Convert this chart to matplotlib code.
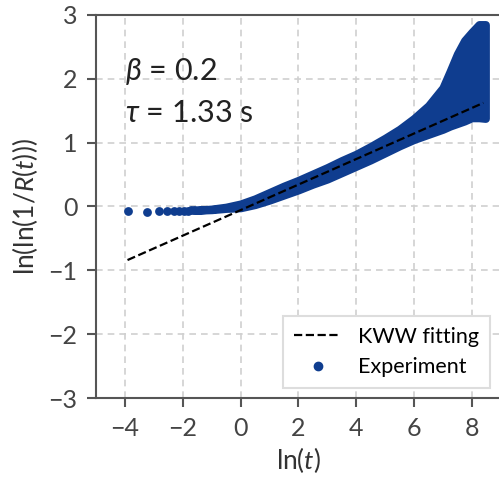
import numpy as np
import matplotlib.pyplot as plt
from matplotlib.lines import Line2D

plt.rcParams['font.family'] = ['Lato', 'DejaVu Sans']
plt.rcParams['mathtext.fontset'] = 'custom'
plt.rcParams['mathtext.rm'] = 'Lato'
plt.rcParams['mathtext.it'] = 'Lato:italic'

# fit parameters
beta = 0.2
tau = 1.33

# first, well separated points (ln t, ln ln 1/R)
sparse_x = [-3.91, -3.22, -2.81, -2.53, -2.30, -2.12, -1.97, -1.83, -1.71, -1.61]
sparse_y = [-0.07, -0.08, -0.07, -0.07, -0.07, -0.07, -0.07, -0.07, -0.06, -0.06]

# dense part of the data: lower / upper edge of the point cloud
band_x = [-1.6, -1.0, -0.5, 0.0, 0.5, 1.0, 1.5, 2.0, 2.5, 3.0, 3.5, 4.0, 4.5,
          5.0, 5.5, 6.0, 6.5, 7.0, 7.25, 7.5, 7.75, 8.0, 8.25, 8.47]
band_lo = [-0.06, -0.05, -0.03, -0.02, 0.03, 0.10, 0.18, 0.26, 0.35, 0.43, 0.53,
           0.63, 0.73, 0.84, 0.95, 1.05, 1.13, 1.21, 1.26, 1.30, 1.34, 1.39, 1.39, 1.38]
band_hi = [-0.06, -0.04, -0.01, 0.04, 0.12, 0.22, 0.32, 0.41, 0.51, 0.61, 0.72,
           0.82, 0.94, 1.07, 1.21, 1.38, 1.58, 1.86, 2.12, 2.39, 2.60, 2.73, 2.85, 2.85]

fit_x = np.array([-3.91, 8.40])

blue = '#0f3d8f'
grey = '#555555'

fig = plt.figure(figsize=(4.99, 4.79), dpi=100)
ax = fig.add_axes([0.1924, 0.1691, 0.811, 0.7996])

ax.scatter(sparse_x, sparse_y, s=40, color=blue, zorder=2, linewidths=0)
ax.fill_between(band_x, band_lo, band_hi, color=blue, edgecolor=blue,
                linewidth=5.8, joinstyle='round', zorder=2)

ax.plot(fit_x, beta * fit_x - beta * np.log(tau), color='black', linestyle='--',
        linewidth=1.6, zorder=3)

ax.text(-4.0, 1.98, r'$\beta$ = 0.2', fontsize=22, color='#222222')
ax.text(-4.0, 1.32, r'$\tau$ = 1.33 s', fontsize=22, color='#222222')

ax.set_xlim(-5, 9)
ax.set_ylim(-3, 3)
ax.set_xticks([-4, -2, 0, 2, 4, 6, 8])
ax.set_yticks([-3, -2, -1, 0, 1, 2, 3])
ax.set_xlabel(r'ln($t$)', fontsize=19, color='#333333', labelpad=4)
ax.set_ylabel(r'ln(ln(1/$R$($t$)))', fontsize=19, color='#333333', labelpad=6)

ax.grid(True, color='#d0d0d0', linestyle=(0, (4, 3)), linewidth=1.2)
ax.set_axisbelow(True)
ax.tick_params(direction='out', length=6.5, width=1.5, color=grey, pad=7,
               labelsize=18, labelcolor='#444444')
for side in ['left', 'bottom', 'top']:
    ax.spines[side].set_color(grey)
    ax.spines[side].set_linewidth(1.5)
ax.spines['right'].set_visible(False)

handles = [Line2D([], [], color='black', linestyle='--', linewidth=1.6),
           Line2D([], [], color=blue, marker='o', linestyle='none', markersize=6)]
leg = ax.legend(handles, ['KWW fitting', 'Experiment'], loc='lower right',
                fontsize=15.5, fancybox=False, framealpha=1, edgecolor='#dddddd',
                handlelength=2.2, borderpad=0.5, labelspacing=0.5,
                borderaxespad=0, bbox_to_anchor=(0.974, 0.026))
leg.get_frame().set_linewidth(1.5)

fig.savefig('out.png', dpi=100)
